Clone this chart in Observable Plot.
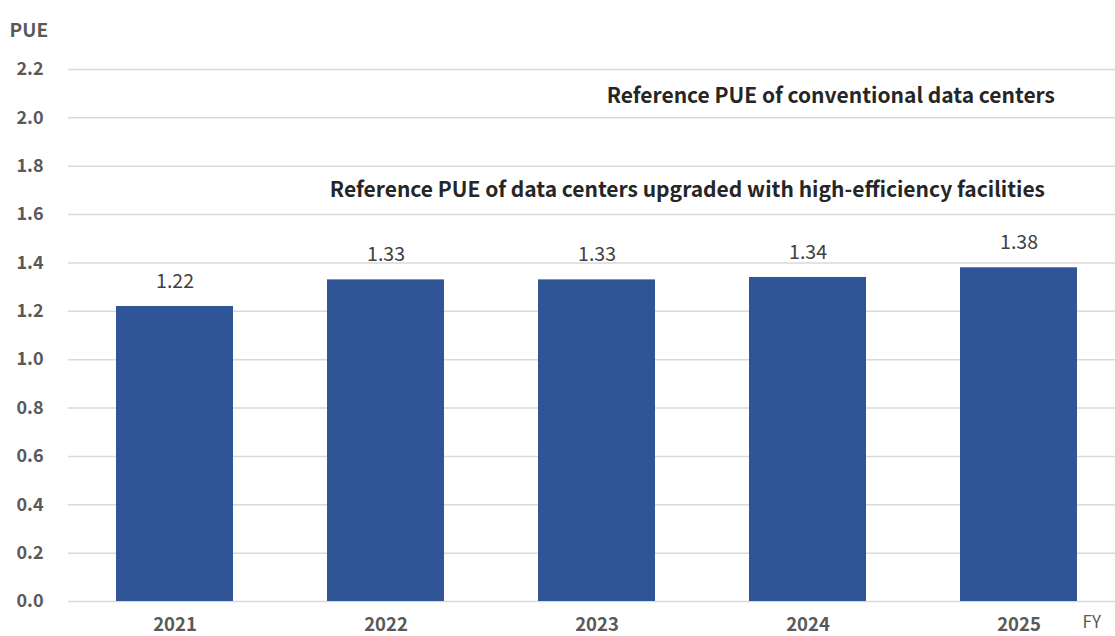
<!DOCTYPE html>
<html>
<head>
<meta charset="utf-8">
<script src="https://cdn.jsdelivr.net/npm/d3@7"></script>
<script src="https://cdn.jsdelivr.net/npm/@observablehq/plot@0.6"></script>
<style>
  html, body { margin: 0; padding: 0; background: #fff; overflow: hidden; }
  #chart svg { display: block; }
</style>
</head>
<body>
<div id="chart"></div>
<script>
const years = ["2021", "2022", "2023", "2024", "2025"];
const pue = [1.22, 1.33, 1.33, 1.34, 1.38];
const yTicks = [0, 0.2, 0.4, 0.6, 0.8, 1.0, 1.2, 1.4, 1.6, 1.8, 2.0, 2.2];
const refLabels = ["Reference PUE of conventional data centers", "Reference PUE of data centers upgraded with high-efficiency facilities"];
const refLevels = [2.09, 1.70];
const yLabel = "PUE";
const xLabel = "FY";

const data = years.map((y, i) => ({year: y, value: pue[i]}));
const refs = refLabels.map((t, i) => ({text: t, y: refLevels[i]}));

const font = "'Noto Sans CJK JP', 'Noto Sans', sans-serif";
const lastYear = () => years[years.length - 1];

const chart = Plot.plot({
  width: 1115,
  height: 636,
  marginTop: 69,
  marginBottom: 35,
  marginLeft: 68,
  marginRight: -10,
  style: {fontFamily: font, background: "#fff", overflow: "hidden"},
  x: {domain: years, paddingInner: 0.445, paddingOuter: 0.2225, label: null},
  y: {domain: [0, 2.2], label: null},
  marks: [
    Plot.gridY(yTicks, {stroke: "#d9d9d9", strokeOpacity: 1, strokeWidth: 1.5}),
    Plot.barY(data, {x: "year", y: "value", fill: "#2f5597"}),
    Plot.text(data, {x: "year", y: "value", text: d => d.value.toFixed(2), dy: -25, fontSize: 19.5, fill: "#404040"}),
    Plot.text(refs.slice(0, 1), {x: lastYear, y: "y", text: "text", textAnchor: "end", dx: 36, fontSize: 21, fontWeight: "bold", fill: "#262626"}),
    Plot.text(refs.slice(1), {x: lastYear, y: "y", text: "text", textAnchor: "end", dx: 26, fontSize: 21, fontWeight: "bold", fill: "#262626"}),
    Plot.axisY(yTicks, {tickSize: 0, tickPadding: 25, tickFormat: d3.format(".1f"), fontSize: 18, fontWeight: "bold", fill: "#595959", label: null}),
    Plot.axisX({tickSize: 0, tickPadding: 16, fontSize: 18.5, fontWeight: "bold", fill: "#595959", label: null}),
    Plot.text([yLabel], {frameAnchor: "top-left", textAnchor: "start", dx: -59, dy: -46, fontSize: 19, fontWeight: "bold", fill: "#595959"}),
    Plot.text([xLabel], {frameAnchor: "bottom-right", textAnchor: "start", dx: -43, dy: 26, fontSize: 17, fill: "#595959"})
  ]
});
document.getElementById("chart").append(chart);
</script>
</body>
</html>
